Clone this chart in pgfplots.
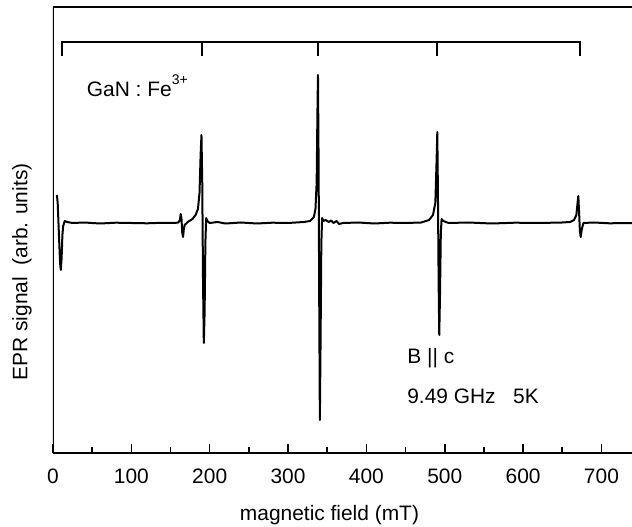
\documentclass[border=0pt]{standalone}
\usepackage{pgfplots}
\pgfplotsset{compat=1.18}
\usepackage{fontspec}
\setmainfont{Liberation Sans}
\begin{document}
\fontsize{21}{25}\selectfont
\begin{tikzpicture}
\begin{axis}[
  name=ax,
  scale only axis,
  width=579bp, height=446bp,
  xmin=0, xmax=739, ymin=-230, ymax=216,
  axis line style={draw=none},
  xtick={0,100,...,700},
  minor x tick num=1,
  xtick pos=left,
  ytick=\empty,
  tick align=inside,
  major tick length=9bp,
  minor tick length=6bp,
  tick style={line width=1.6bp, black},
  /pgf/number format/assume math mode=true,
  xticklabel style={font=\fontsize{21}{25}\selectfont, yshift=-9bp},
  xlabel={magnetic field (mT)},
  ylabel={EPR signal\ \ (arb. units)},
  xlabel style={font=\fontsize{21}{25}\selectfont, yshift=-7bp, xshift=-13bp},
  ylabel style={font=\fontsize{21}{25}\selectfont, yshift=14bp, xshift=-42bp},
  clip=true,
]
\draw[line width=2bp] (rel axis cs:1,1) -- (rel axis cs:0,1) -- (rel axis cs:0,0) -- (rel axis cs:1,0);
% spectrum
\addplot[black, line width=2bp, line join=round] coordinates {
(5,28) (6,20) (7.5,-10) (9,-40) (10,-47) (11,-35) (12,-12) (13,-3) (15,2) (18,1) (25,0)
(40,0.5) (60,-0.5) (80,0.3) (100,0) (120,-0.3) (140,0.2) (155,0) (160,0.5)
(162,3) (163,9) (164,4) (165,-10) (166,-14) (167,-6) (168,-2) (172,1) (178,4) (182,8)
(185,14) (187,30) (188.5,70) (189.5,88) (190.5,40) (191.5,-60) (192.5,-120) (193.5,-90)
(194.5,-20) (195.5,5) (197,2) (200,0) (210,1) (220,-0.5) (240,0.5) (260,-0.5) (280,0.3)
(300,0) (320,1) (328,2) (333,6) (335,14) (336.5,40) (337.5,110) (338.2,148) (339,60)
(339.8,-80) (340.6,-197) (341.5,-120) (342.5,-20) (343.5,5) (345,2) (348,3) (352,1)
(355,2.5) (358,0) (362,2) (365,-1) (370,0) (390,0.5) (410,-0.5) (430,0.3) (450,0)
(470,0.5) (480,3) (485,8) (488,20) (489.5,60) (490.5,91) (491.3,30) (492.2,-60) (493,-112)
(494,-70) (495,-10) (496,4) (498,2) (505,0) (530,0.5) (560,-0.5) (590,0.3) (620,0)
(650,0.5) (660,1) (665,3) (668,8) (669.5,20) (670.5,27) (671.5,10) (672.5,-8) (673.5,-14)
(675,-6) (677,0) (690,0.5) (710,-0.3) (739,0)
};
% stick diagram
\addplot[black, line width=2bp] coordinates {(11,167) (11,181) (672,181) (672,167)};
\addplot[black, line width=2bp] coordinates {(190,181) (190,167)};
\addplot[black, line width=2bp] coordinates {(338,181) (338,167)};
\addplot[black, line width=2bp] coordinates {(490,181) (490,167)};
\node[anchor=base west, inner sep=0pt] at (axis cs:43,126) {GaN : Fe\raisebox{0.62em}{\fontsize{14}{14}\selectfont 3+}};
\node[anchor=base west, inner sep=0pt] at (axis cs:452,-140) {B || c};
\node[anchor=base west, inner sep=0pt] at (axis cs:452,-180) {9.49 GHz\ \ \ 5K};
\end{axis}
\path (ax.south west) ++(-53bp,-74bp) coordinate (a);
\path (ax.north east) ++(0,7bp) coordinate (b);
\pgfresetboundingbox
\path (a) rectangle (b);
\end{tikzpicture}
\end{document}
